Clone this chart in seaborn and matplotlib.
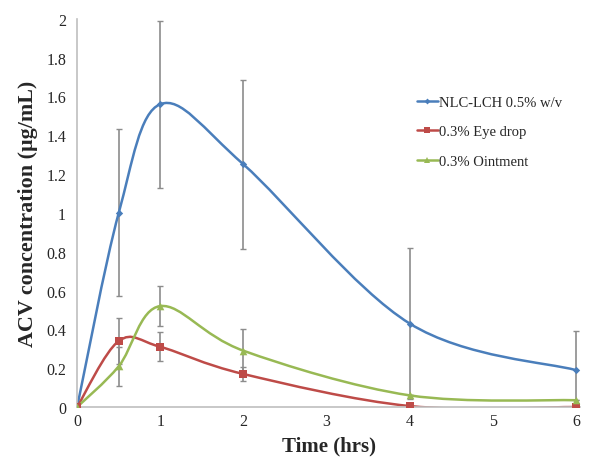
import numpy as np
import matplotlib
matplotlib.use("Agg")
import matplotlib.pyplot as plt
import seaborn as sns
from matplotlib.path import Path
from matplotlib.patches import PathPatch
from matplotlib.lines import Line2D

sns.set_style("white")
plt.rcParams["font.family"] = ["Liberation Serif", "DejaVu Serif"]

# podatki odčitani s slike
time_hrs = [0, 0.5, 1, 2, 4, 6]
nlc_mean = [0.0, 1.00, 1.56, 1.25, 0.43, 0.19]
nlc_err = [0.0, 0.43, 0.43, 0.435, 0.39, 0.20]
drop_mean = [0.0, 0.34, 0.31, 0.17, 0.005, 0.0]
drop_err = [0.0, 0.12, 0.075, 0.035, 0.0, 0.0]
oint_mean = [0.0, 0.21, 0.52, 0.29, 0.06, 0.035]
oint_err = [0.0, 0.10, 0.105, 0.11, 0.0, 0.0]

labels = ["NLC-LCH 0.5% w/v", "0.3% Eye drop", "0.3% Ointment"]
colors = ["#4A7EBB", "#BE4B48", "#98B954"]
markers = ["D", "s", "^"]
msizes = [14, 30, 30]
series = [(nlc_mean, nlc_err), (drop_mean, drop_err), (oint_mean, oint_err)]


def smooth_path(xs, ys, t=1 / 6):
    # Excel-like smoothed line as cubic Bezier segments through the data
    pts = np.column_stack([xs, ys]).astype(float)
    ext = np.vstack([pts[0], pts, pts[-1]])
    verts = [pts[0]]
    codes = [Path.MOVETO]
    for i in range(len(pts) - 1):
        p0, p1, p2, p3 = ext[i], ext[i + 1], ext[i + 2], ext[i + 3]
        verts += [p1 + (p2 - p0) * t, p2 - (p3 - p1) * t, p2]
        codes += [Path.CURVE4] * 3
    return Path(verts, codes)


fig = plt.figure(figsize=(5.89, 4.60), dpi=100)
ax = fig.add_axes([0.131, 0.113, 0.854, 0.844])

handles = []
for (mean, err), lab, col, mk, ms in zip(series, labels, colors, markers, msizes):
    ax.errorbar(time_hrs, mean, yerr=err, fmt="none", ecolor="#8c8c8c",
                elinewidth=1.2, capsize=2, capthick=1, zorder=1)
    ax.add_patch(PathPatch(smooth_path(time_hrs, mean), facecolor="none",
                           edgecolor=col, lw=1.8, zorder=2))
    sns.scatterplot(x=time_hrs, y=mean, marker=mk, color=col, s=ms,
                    edgecolor=col, linewidth=0, zorder=3, ax=ax, legend=False)
    handles.append(Line2D([0], [0], color=col, lw=1.8, marker=mk,
                          markersize=np.sqrt(ms) * 0.8, markeredgewidth=0))

ax.set_xlim(0, 6.05)
ax.set_ylim(0, 2)
ax.set_xticks(range(0, 7))
ax.set_yticks(np.arange(0, 2.01, 0.2))
ax.set_yticklabels([f"{v:g}" for v in np.round(np.arange(0, 2.01, 0.2), 1)])
ax.tick_params(labelsize=11.5, length=0)
ax.tick_params(axis="x", pad=4)
ax.tick_params(axis="y", pad=8)

for s in ["top", "right"]:
    ax.spines[s].set_visible(False)
for s in ["left", "bottom"]:
    ax.spines[s].set_color("#bfbfbf")
    ax.spines[s].set_linewidth(1.2)

ax.set_xlabel("Time (hrs)", fontsize=15, fontweight="bold", labelpad=5)
ax.set_ylabel("ACV concentration (\u00b5g/mL)", fontsize=15.8, fontweight="bold", labelpad=6)

ax.legend(handles, labels, loc="upper left", bbox_to_anchor=(0.65, 0.835),
          frameon=False, fontsize=10.5, handlelength=1.4, handletextpad=0.1,
          labelspacing=1.1)

plt.savefig("out.png", dpi=100)
plt.close()
